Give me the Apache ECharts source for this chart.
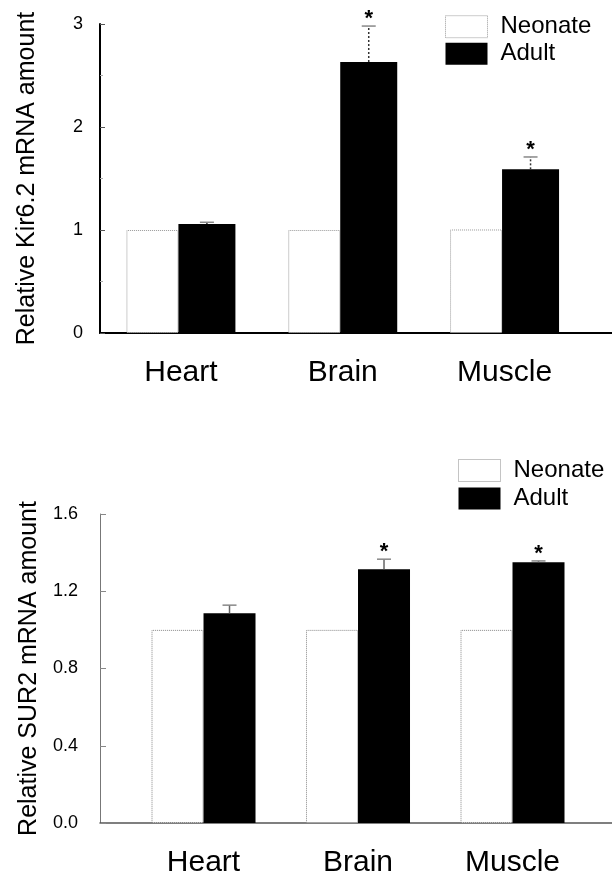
<!DOCTYPE html>
<html><head><meta charset="utf-8">
<script src="https://cdn.jsdelivr.net/npm/echarts@6/dist/echarts.min.js"></script>
<style>html,body{margin:0;padding:0;background:#fff}#c{width:612px;height:880px}</style>
</head><body><div id="c"></div>
<script>
// ---- data ----
const categories = ['Heart', 'Brain', 'Muscle'];
const kirNeonate = [1.0, 1.0, 1.005];
const kirAdult = [1.058, 2.63, 1.589];
const kirAdultErr = [0.017, 0.35, 0.12];
const kirSig = [0, 1, 1];
const surNeonate = [1.0, 1.0, 1.0];
const surAdult = [1.086, 1.314, 1.35];
const surAdultErr = [0.042, 0.052, 0.007];
const surSig = [0, 1, 1];
const kirTicks = [0, 1, 2, 3];
const surTicks = [0, 0.4, 0.8, 1.2, 1.6];
const seriesNames = ['Neonate', 'Adult'];

const FONT = '"Liberation Sans", Arial, Helvetica, sans-serif';
// group centre along each x axis: category index + lead-in offset (axis units)
const posTop = categories.map((c, i) => i + 0.5);
const posBot = categories.map((c, i) => i + 0.67);

function errSeries(idx, pos, means, errs, sig, offset, capColor, lineColor, lineType) {
  return {
    type: 'custom', xAxisIndex: idx, yAxisIndex: idx, silent: true, clip: false, z: 5,
    data: means.map((v, i) => [pos[i], v, v + errs[i], sig[i]]),
    renderItem: function (params, api) {
      const x = api.value(0), m = api.value(1), u = api.value(2), s = api.value(3);
      const p0 = api.coord([x, m]), p1 = api.coord([x, u]);
      const cx = p0[0] + offset;
      const ch = [
        {type: 'line', shape: {x1: cx, y1: p0[1], x2: cx, y2: p1[1]},
         style: {stroke: lineColor, lineWidth: 1.5, lineDash: lineType}},
        {type: 'line', shape: {x1: cx - 7, y1: p1[1], x2: cx + 7, y2: p1[1]},
         style: {stroke: capColor, lineWidth: 1.5}}
      ];
      if (s) {
        ch.push({type: 'text', x: cx, y: p1[1] - 7,
          style: {text: '*', fontSize: 22, fontWeight: 'bold', fontFamily: FONT, fill: '#000',
                  align: 'center', verticalAlign: 'middle'}});
      }
      return {type: 'group', children: ch};
    }
  };
}

function legendCfg(left, top, gap, border) {
  return {
    left: left, top: top, orient: 'vertical', padding: 0, itemGap: gap,
    itemWidth: 42, itemHeight: 22, icon: 'rect', selectedMode: false,
    textStyle: {fontSize: 24, color: '#000', fontFamily: FONT, lineHeight: 24, padding: [0, 0, 0, 8]},
    data: [
      {name: seriesNames[0], itemStyle: {color: '#fff', borderColor: border, borderWidth: 1, borderType: 'dotted'}},
      {name: seriesNames[1], itemStyle: {color: '#000', borderWidth: 0}}
    ]
  };
}

function catLabel(pos) {
  return {customValues: pos, formatter: v => categories[pos.indexOf(v)] || '',
          fontSize: 30, margin: 25, color: '#000', fontFamily: FONT};
}

const chart = echarts.init(document.getElementById('c'), null, {renderer: 'canvas'});
chart.setOption({
  animation: false,
  backgroundColor: '#fff',
  textStyle: {fontFamily: FONT},
  grid: [
    {left: 100, right: 0, top: 24, bottom: 547},
    {left: 100, right: 0, top: 514, bottom: 57}
  ],
  legend: [legendCfg(445, 14.7, 3, '#999'), legendCfg(458, 458.5, 4, '#888')],
  xAxis: [
    {type: 'value', gridIndex: 0, min: 0, max: 3.164,
     axisLine: {show: true, onZero: false, lineStyle: {color: '#000', width: 2}},
     axisTick: {show: false}, splitLine: {show: false}, axisLabel: catLabel(posTop)},
    {type: 'value', gridIndex: 1, min: 0, max: 3.314,
     axisLine: {show: true, onZero: false, lineStyle: {color: '#555', width: 1.5}},
     axisTick: {show: false}, splitLine: {show: false}, axisLabel: catLabel(posBot)}
  ],
  yAxis: [
    {type: 'value', gridIndex: 0, min: kirTicks[0], max: kirTicks[kirTicks.length - 1],
     interval: kirTicks[1] - kirTicks[0],
     axisLine: {show: true, onZero: false, lineStyle: {color: '#000', width: 2}},
     axisTick: {show: true, inside: true, length: 5, lineStyle: {color: '#555'}},
     minorTick: {show: true, splitNumber: 2, length: 3, lineStyle: {color: '#aaa'}},
     splitLine: {show: false},
     axisLabel: {fontSize: 18, margin: 17, color: '#000', fontFamily: FONT},
     name: 'Relative Kir6.2 mRNA amount', nameLocation: 'middle', nameGap: 60,
     nameTextStyle: {fontSize: 25, color: '#000', fontFamily: FONT}},
    {type: 'value', gridIndex: 1, min: surTicks[0], max: surTicks[surTicks.length - 1],
     interval: surTicks[1] - surTicks[0],
     axisLine: {show: true, onZero: false, lineStyle: {color: '#777', width: 1}},
     axisTick: {show: true, inside: true, length: 6, lineStyle: {color: '#888'}},
     splitLine: {show: false},
     axisLabel: {fontSize: 18, margin: 22, color: '#000', fontFamily: FONT, formatter: v => v.toFixed(1)},
     name: 'Relative SUR2 mRNA amount', nameLocation: 'middle', nameGap: 57,
     nameTextStyle: {fontSize: 25, color: '#000', fontFamily: FONT}}
  ],
  series: [
    {type: 'bar', name: seriesNames[0], xAxisIndex: 0, yAxisIndex: 0, barWidth: 52, barGap: '0%', silent: true,
     data: kirNeonate.map((v, i) => [posTop[i], v]),
     itemStyle: {color: '#fff', borderColor: '#999', borderWidth: 1, borderType: 'dotted'}},
    {type: 'bar', name: seriesNames[1], xAxisIndex: 0, yAxisIndex: 0, barWidth: 57, barGap: '0%', silent: true,
     data: kirAdult.map((v, i) => [posTop[i], v]),
     itemStyle: {color: '#000'}},
    errSeries(0, posTop, kirAdult, kirAdultErr, kirSig, 26, '#888', '#333', [2, 2]),
    {type: 'bar', name: seriesNames[0], xAxisIndex: 1, yAxisIndex: 1, barWidth: 52, barGap: '0%', silent: true,
     data: surNeonate.map((v, i) => [posBot[i], v]),
     itemStyle: {color: '#fff', borderColor: '#888', borderWidth: 1, borderType: 'dotted'}},
    {type: 'bar', name: seriesNames[1], xAxisIndex: 1, yAxisIndex: 1, barWidth: 52, barGap: '0%', silent: true,
     data: surAdult.map((v, i) => [posBot[i], v]),
     itemStyle: {color: '#000'}},
    errSeries(1, posBot, surAdult, surAdultErr, surSig, 26, '#888', '#666', null)
  ]
});
</script>
</body></html>
